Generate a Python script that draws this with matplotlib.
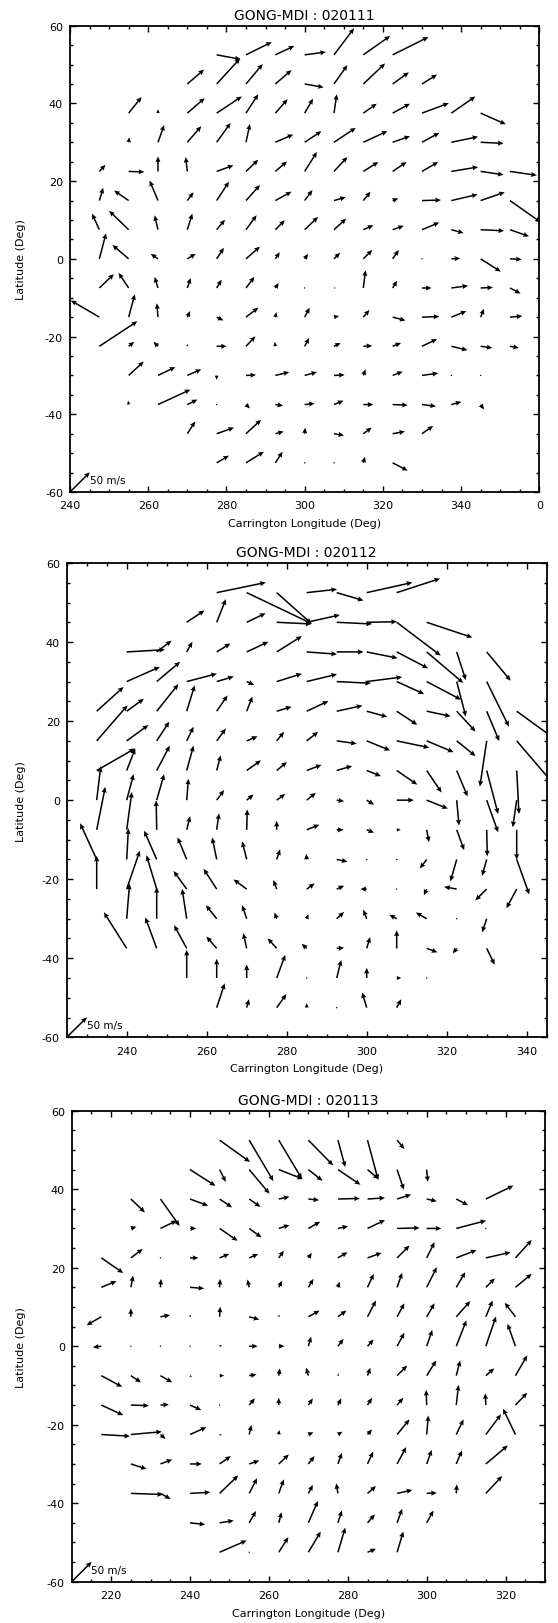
import matplotlib
matplotlib.use('Agg')
import matplotlib.pyplot as plt
from matplotlib.ticker import MultipleLocator, FuncFormatter

plt.rcParams['font.family'] = ['DejaVu Sans']

W, H = 558, 1624

titles = ['GONG-MDI : 020111', 'GONG-MDI : 020112', 'GONG-MDI : 020113']
lon_starts = [240, 225, 210]
lon_span = 120
lat_min, lat_max = -60, 60
xlabel = 'Carrington Longitude (Deg)'
ylabel = 'Latitude (Deg)'
key_speed = 50.0
key_label = '50 m/s'

# flow vectors: (longitude, latitude, u [m/s], v [m/s])
flow_020111 = [
    (277.5, 52.5, 43, -8), (285, 52.5, 46, 23), (292.5, 52.5, 34, 16), (300, 52.5, 38, 5),
    (307.5, 52.5, 36, 48), (315, 52.5, 48, 34), (322.5, 52.5, 64, 32),
    (270, 45, 30, 26), (277.5, 45, 42, 46), (285, 45, 30, 36), (292.5, 45, 29, 25), (300, 45, 34, -6),
    (307.5, 45, 24, 34), (315, 45, 39, 37), (322.5, 45, 29, 21), (330, 45, 27, 17),
    (255, 37.5, 23, 29), (262.5, 37.5, 0, 7), (270, 37.5, 31, 27), (277.5, 37.5, 45, 30), (285, 37.5, 22, 34),
    (292.5, 37.5, 22, 25), (300, 37.5, 15, 26), (307.5, 37.5, 5, 34), (315, 37.5, 24, 17), (322.5, 37.5, 31, 17),
    (330, 37.5, 48, 18), (337.5, 37.5, 43, 30), (345, 37.5, 45, -20),
    (255, 30, 1, 9), (262.5, 30, 11, 31), (270, 30, 25, 29), (277.5, 30, 25, 35), (285, 30, 7, 33),
    (292.5, 30, 32, 14), (300, 30, 30, 20), (307.5, 30, 39, 26), (315, 30, 43, 20), (322.5, 30, 31, 11),
    (330, 30, 31, 17), (337.5, 30, 48, 10), (345, 30, 41, -2),
    (247.5, 22.5, 11, 12), (255, 22.5, 28, -1), (262.5, 22.5, 0, 27), (270, 22.5, -3, 26), (277.5, 22.5, 30, 11),
    (285, 22.5, 22, 21), (292.5, 22.5, 21, 18), (300, 22.5, 22, 35), (307.5, 22.5, 24, 26), (315, 22.5, 27, 17),
    (322.5, 22.5, 25, 17), (330, 22.5, 29, 17), (337.5, 22.5, 48, 8), (345, 22.5, 41, -6), (352.5, 22.5, 48, -7),
    (247.5, 15, 7, 23), (255, 15, -26, 18), (262.5, 15, -15, 36), (270, 15, 11, 15), (277.5, 15, 22, 34),
    (285, 15, 25, 28), (292.5, 15, 29, 16), (300, 15, 14, 19), (307.5, 15, 21, 6), (315, 15, 13, 16),
    (322.5, 15, 10, 4), (330, 15, 34, 1), (337.5, 15, 47, 11), (345, 15, 43, 15), (352.5, 15, 55, -39),
    (247.5, 7.5, -13, 29), (255, 7.5, -35, 34), (262.5, 7.5, -6, 26), (270, 7.5, 9, 29), (277.5, 7.5, 15, 18),
    (285, 7.5, 19, 26), (292.5, 7.5, 17, 17), (300, 7.5, 24, 23), (307.5, 7.5, 22, 20), (315, 7.5, 18, 8),
    (322.5, 7.5, 20, 7), (330, 7.5, 31, 13), (337.5, 7.5, 22, -6), (345, 7.5, 42, -2), (352.5, 7.5, 34, -12),
    (247.5, 0, 12, 46), (255, 0, -29, 25), (262.5, 0, -13, 9), (270, 0, 15, 9), (277.5, 0, 13, 20),
    (285, 0, 25, 22), (292.5, 0, 8, 12), (300, 0, 6, 9), (307.5, 0, 11, 11), (315, 0, 16, 16),
    (322.5, 0, 11, 16), (330, 0, 1, 0), (337.5, 0, 16, 1), (345, 0, 36, -23), (352.5, 0, 21, -1),
    (247.5, -7.5, 26, 25), (255, -7.5, -18, 27), (262.5, -7.5, -6, 20), (270, -7.5, 6, 18), (277.5, -7.5, 9, 15),
    (285, -7.5, 15, 20), (292.5, -7.5, 6, 9), (300, -7.5, 2, 0), (307.5, -7.5, 3, 0), (315, -7.5, 4, 32),
    (322.5, -7.5, 8, 13), (330, -7.5, 17, 0), (337.5, -7.5, 30, 4), (345, -7.5, 22, 1), (352.5, -7.5, 19, -10),
    (247.5, -15, -51, 30), (255, -15, 11, 41), (262.5, -15, -2, 25), (270, -15, 5, 11), (277.5, -15, 12, -6),
    (285, -15, 22, 17), (292.5, -15, 2, 9), (300, -15, 9, 17), (307.5, -15, 9, 2), (315, -15, 11, 13),
    (322.5, -15, 23, -6), (330, -15, 31, 1), (337.5, -15, 27, 11), (345, -15, 6, 15), (352.5, -15, 22, 2),
    (247.5, -22.5, 68, 45), (255, -22.5, 10, 8), (262.5, -22.5, -8, 8), (270, -22.5, 0, 4), (277.5, -22.5, 18, 0),
    (285, -22.5, 17, 18), (292.5, -22.5, -1, 8), (300, -22.5, 8, 15), (307.5, -22.5, 12, 6), (315, -22.5, 16, 1),
    (322.5, -22.5, 15, 6), (330, -22.5, 27, 13), (337.5, -22.5, 29, -7), (345, -22.5, 21, -3), (352.5, -22.5, 16, -3),
    (255, -30, 27, 25), (262.5, -30, 31, 15), (270, -30, 25, 11), (277.5, -30, 0, -8), (285, -30, 18, 1),
    (292.5, -30, 25, 6), (300, -30, 22, 6), (307.5, -30, 19, 1), (315, -30, 4, 11), (322.5, -30, 18, 7),
    (330, -30, 29, 4), (337.5, -30, 1, 0), (345, -30, 1, 0),
    (255, -37.5, -1, 7), (262.5, -37.5, 58, 27), (270, -37.5, 18, 9), (277.5, -37.5, 2, 1), (285, -37.5, 7, -7),
    (292.5, -37.5, 14, -2), (300, -37.5, 18, 2), (307.5, -37.5, 17, 7), (315, -37.5, 18, 0), (322.5, -37.5, 27, -1),
    (330, -37.5, 25, -3), (337.5, -37.5, 18, 5), (345, -37.5, 6, -9),
    (270, -45, 14, 22), (277.5, -45, 31, 11), (285, -45, 27, 25), (292.5, -45, 15, 4), (300, -45, 1, 11),
    (307.5, -45, 18, -3), (315, -45, 15, 11), (322.5, -45, 22, 4), (330, -45, 20, 14),
    (277.5, -52.5, 22, 13), (285, -52.5, 32, 20), (292.5, -52.5, 13, 20), (300, -52.5, 1, 0),
    (307.5, -52.5, 2, 0), (315, -52.5, 3, 11), (322.5, -52.5, 27, -14),
]

flow_020112 = [
    (262.5, 52.5, 86, 18), (270, 52.5, 114, -55), (277.5, 52.5, 61, -55), (285, 52.5, 53, 6),
    (292.5, 52.5, 47, -14), (300, 52.5, 80, 18), (307.5, 52.5, 76, 25),
    (255, 45, 31, 21), (262.5, 45, 16, 41), (270, 45, 33, 16), (277.5, 45, 61, -3), (285, 45, 58, 13),
    (292.5, 45, 62, -3), (300, 45, 53, 1), (307.5, 45, 77, -59), (315, 45, 80, -27),
    (240, 37.5, 67, 4), (247.5, 37.5, 26, 20), (255, 37.5, 10, 18), (262.5, 37.5, 24, 15), (270, 37.5, 38, 18),
    (277.5, 37.5, 44, 28), (285, 37.5, 53, -4), (292.5, 37.5, 47, 0), (300, 37.5, 54, -11), (307.5, 37.5, 55, -29),
    (315, 37.5, 64, -55), (322.5, 37.5, 16, -50), (330, 37.5, 42, -51),
    (240, 30, 58, 26), (247.5, 30, 41, 35), (255, 30, 53, 14), (262.5, 30, 30, 9), (270, 30, 13, -6),
    (277.5, 30, 44, 14), (285, 30, 53, 13), (292.5, 30, 60, -3), (300, 30, 62, 8), (307.5, 30, 48, -22),
    (315, 30, 60, -32), (322.5, 30, 16, -62), (330, 30, 39, -80),
    (232.5, 22.5, 47, 43), (240, 22.5, 30, 22), (247.5, 22.5, 38, 48), (255, 22.5, 14, 46), (262.5, 22.5, 19, 28),
    (270, 22.5, 10, 26), (277.5, 22.5, 26, 8), (285, 22.5, 38, 18), (292.5, 22.5, 45, 10), (300, 22.5, 36, -10),
    (307.5, 22.5, 36, -24), (315, 22.5, 42, -9), (322.5, 22.5, 33, -36), (330, 22.5, 22, -53), (337.5, 22.5, 68, -50),
    (232.5, 15, 54, 63), (240, 15, 38, 28), (247.5, 15, 22, 34), (255, 15, 12, 25), (262.5, 15, 16, 22),
    (270, 15, 19, 8), (277.5, 15, 13, 16), (285, 15, 20, 16), (292.5, 15, 35, -5), (300, 15, 41, -17),
    (307.5, 15, 57, -12), (315, 15, 47, -20), (322.5, 15, 33, -27), (330, 15, -12, -81), (337.5, 15, 60, -71),
    (232.5, 7.5, 67, 39), (240, 7.5, 15, 39), (247.5, 7.5, 23, 44), (255, 7.5, 12, 44), (262.5, 7.5, 7, 27),
    (270, 7.5, 25, 18), (277.5, 7.5, 18, 15), (285, 7.5, 26, 10), (292.5, 7.5, 27, 8), (300, 7.5, 25, -10),
    (307.5, 7.5, 36, -25), (315, 7.5, 26, -39), (322.5, 7.5, 19, -46), (330, 7.5, 20, -77), (337.5, 7.5, 4, -77),
    (232.5, 0, 7, 60), (240, 0, 12, 46), (247.5, 0, 13, 46), (255, 0, 3, 38), (262.5, 0, 13, 18),
    (270, 0, 12, 10), (277.5, 0, 15, 11), (285, 0, 16, 13), (292.5, 0, 13, -2), (300, 0, 13, -8),
    (307.5, 0, 30, 0), (315, 0, 37, -15), (322.5, 0, 4, -45), (330, 0, 20, -57), (337.5, 0, -7, -48),
    (232.5, -7.5, 15, 76), (240, -7.5, 9, 67), (247.5, -7.5, -1, 52), (255, -7.5, 6, 24), (262.5, -7.5, 4, 29),
    (270, -7.5, 1, 36), (277.5, -7.5, 0, 16), (285, -7.5, 22, 9), (292.5, -7.5, 12, 0), (300, -7.5, 13, -5),
    (307.5, -7.5, 7, 0), (315, -7.5, 4, -22), (322.5, -7.5, 13, -36), (330, -7.5, 1, -47), (337.5, -7.5, 0, -53),
    (232.5, -15, -29, 64), (240, -15, 3, 55), (247.5, -15, -22, 51), (255, -15, -16, 39), (262.5, -15, -8, 39),
    (270, -15, -8, 32), (277.5, -15, 6, 18), (285, -15, -1, 10), (292.5, -15, 19, -4), (300, -15, 1, 0),
    (307.5, -15, 1, 1), (315, -15, -12, -16), (322.5, -15, -11, -39), (330, -15, -8, -29), (337.5, -15, 22, -62),
    (232.5, -22.5, 0, 59), (240, -22.5, 23, 68), (247.5, -22.5, -18, 60), (255, -22.5, -23, 32), (262.5, -22.5, -23, 36),
    (270, -22.5, -23, 17), (277.5, -22.5, -6, 16), (285, -22.5, 14, 10), (292.5, -22.5, 13, 6), (300, -22.5, -11, 0),
    (307.5, -22.5, 1, 0), (315, -22.5, -5, -11), (322.5, -22.5, -22, 4), (330, -22.5, -20, -20), (337.5, -22.5, -18, -34),
    (240, -30, 5, 62), (247.5, -30, 0, 56), (255, -30, -8, 53), (262.5, -30, -19, 24), (270, -30, -8, 24),
    (277.5, -30, -4, 11), (285, -30, 3, 8), (292.5, -30, 13, 12), (300, -30, -6, 16), (307.5, -30, -13, 7),
    (315, -30, -19, 11), (322.5, -30, 0, -2), (330, -30, -8, -24),
    (240, -37.5, -40, 64), (247.5, -37.5, -20, 55), (255, -37.5, -22, 41), (262.5, -37.5, -18, 21), (270, -37.5, -6, 27),
    (277.5, -37.5, -16, 18), (285, -37.5, -9, 8), (292.5, -37.5, 13, 1), (300, -37.5, 6, 20), (307.5, -37.5, 0, 32),
    (315, -37.5, 19, -7), (322.5, -37.5, -7, -9), (330, -37.5, 14, -29),
    (255, -45, 0, 50), (262.5, -45, 0, 34), (270, -45, 0, 24), (277.5, -45, 15, 41), (285, -45, 1, 0),
    (292.5, -45, 8, 32), (300, -45, 0, 18), (307.5, -45, 8, 0), (315, -45, 1, 0),
    (262.5, -52.5, 14, 43), (270, -52.5, 4, 15), (277.5, -52.5, 17, 24), (285, -52.5, 0, 8),
    (292.5, -52.5, 1, 0), (300, -52.5, -8, 27), (307.5, -52.5, 8, 15),
]

flow_020113 = [
    (247.5, 52.5, 54, -39), (255, 52.5, 43, -73), (262.5, 52.5, 41, -69), (270, 52.5, 44, -45),
    (277.5, 52.5, 13, -48), (285, 52.5, 19, -71), (292.5, 52.5, 13, -16),
    (240, 45, 45, -29), (247.5, 45, 11, -22), (255, 45, 36, -43), (262.5, 45, 43, -17), (270, 45, 25, -20),
    (277.5, 45, 40, -27), (285, 45, 20, -17), (292.5, 45, 12, -36), (300, 45, 2, -22),
    (225, 37.5, 25, -24), (232.5, 37.5, 34, -48), (240, 37.5, 32, -12), (247.5, 37.5, 22, -15), (255, 37.5, 20, -14),
    (262.5, 37.5, 19, 4), (270, 37.5, 19, -2), (277.5, 37.5, 39, 1), (285, 37.5, 31, 2), (292.5, 37.5, 25, 8),
    (300, 37.5, 18, -4), (307.5, 37.5, 21, -11), (315, 37.5, 49, 24),
    (225, 30, 10, 3), (232.5, 30, 29, 14), (240, 30, 11, 0), (247.5, 30, 32, -22), (255, 30, 22, -16),
    (262.5, 30, 19, 6), (270, 30, 21, 12), (277.5, 30, 18, 4), (285, 30, 31, 15), (292.5, 30, 40, 1),
    (300, 30, 26, 0), (307.5, 30, 53, 14), (315, 30, 1, -2),
    (217.5, 22.5, 39, -27), (225, 22.5, 21, 16), (232.5, 22.5, 1, 1), (240, 22.5, 15, 0), (247.5, 22.5, 17, 7),
    (255, 22.5, 16, 7), (262.5, 22.5, 9, 13), (270, 22.5, 6, 9), (277.5, 22.5, 17, 10), (285, 22.5, 25, 9),
    (292.5, 22.5, 22, 22), (300, 22.5, 14, 28), (307.5, 22.5, 36, 14), (315, 22.5, 44, 10), (322.5, 22.5, 29, 32),
    (217.5, 15, 27, 11), (225, 15, 4, 21), (232.5, 15, 1, 15), (240, 15, 25, -2), (247.5, 15, 1, 15),
    (255, 15, -3, 14), (262.5, 15, 6, 12), (270, 15, 9, 15), (277.5, 15, 3, 10), (285, 15, 11, 24),
    (292.5, 15, 9, 26), (300, 15, 18, 36), (307.5, 15, 16, 27), (315, 15, 16, 16), (322.5, 15, 29, 24),
    (217.5, 7.5, -26, -15), (225, 7.5, 0, 15), (232.5, 7.5, 17, 3), (240, 7.5, 1, 4), (247.5, 7.5, 1, 18),
    (255, 7.5, 18, -5), (262.5, 7.5, 1, 4), (270, 7.5, 20, 11), (277.5, 7.5, 15, 11), (285, 7.5, 15, 29),
    (292.5, 7.5, 13, 24), (300, 7.5, 14, 24), (307.5, 7.5, 25, 28), (315, 7.5, 12, 29), (322.5, 7.5, -19, 25),
    (217.5, 0, -15, -2), (225, 0, 1, 2), (232.5, 0, 1, 1), (240, 0, 1, 1), (247.5, 0, 4, 2),
    (255, 0, 15, 0), (262.5, 0, 10, 0), (270, 0, 5, 17), (277.5, 0, 10, 13), (285, 0, 11, 12),
    (292.5, 0, 13, 24), (300, 0, 10, 29), (307.5, 0, 18, 46), (315, 0, 18, 53), (322.5, 0, -14, 40),
    (217.5, -7.5, 37, -20), (225, -7.5, 18, -12), (232.5, -7.5, 21, -12), (240, -7.5, 3, -3), (247.5, -7.5, 8, 0),
    (255, -7.5, 13, 2), (262.5, -7.5, 2, 13), (270, -7.5, -4, 14), (277.5, -7.5, 1, 4), (285, -7.5, 5, 14),
    (292.5, -7.5, 18, 18), (300, -7.5, 17, 27), (307.5, -7.5, 7, 27), (315, -7.5, 15, 13), (322.5, -7.5, 21, 36),
    (217.5, -15, 39, -18), (225, -15, 32, -1), (232.5, -15, 15, 1), (240, -15, 20, -9), (247.5, -15, 1, 0),
    (255, -15, 10, 12), (262.5, -15, 0, 13), (270, -15, 8, 12), (277.5, -15, 6, 12), (285, -15, 8, 13),
    (292.5, -15, 11, 13), (300, -15, -1, 27), (307.5, -15, 4, 36), (315, -15, -1, 21), (322.5, -15, 21, 22),
    (217.5, -22.5, 51, -3), (225, -22.5, 55, 5), (232.5, -22.5, 9, -8), (240, -22.5, 29, 13), (247.5, -22.5, 4, -1),
    (255, -22.5, 4, 17), (262.5, -22.5, 1, 8), (270, -22.5, 9, 4), (277.5, -22.5, 8, 5), (285, -22.5, 8, 9),
    (292.5, -22.5, 22, 27), (300, -22.5, 3, 34), (307.5, -22.5, 13, 27), (315, -22.5, 27, 36), (322.5, -22.5, -22, 46),
    (225, -30, 28, -9), (232.5, -30, 21, 8), (240, -30, 21, 0), (247.5, -30, 20, 14), (255, -30, 18, 6),
    (262.5, -30, 18, 17), (270, -30, 11, 14), (277.5, -30, 7, 20), (285, -30, 10, 22), (292.5, -30, 16, 30),
    (300, -30, 9, 25), (307.5, -30, 10, 24), (315, -30, 39, 33),
    (225, -37.5, 57, -2), (232.5, -37.5, 18, -10), (240, -37.5, 36, 2), (247.5, -37.5, 33, 32), (255, -37.5, 14, 27),
    (262.5, -37.5, 9, 25), (270, -37.5, 8, 15), (277.5, -37.5, -3, 18), (285, -37.5, 15, 13), (292.5, -37.5, 27, 6),
    (300, -37.5, 18, 1), (307.5, -37.5, 1, 16), (315, -37.5, 29, 31),
    (240, -45, 27, -3), (247.5, -45, 25, 4), (255, -45, 12, 21), (262.5, -45, 5, 19), (270, -45, 17, 39),
    (277.5, -45, 7, 22), (285, -45, 13, 15), (292.5, -45, 9, 25), (300, -45, 12, 22),
    (247.5, -52.5, 48, 21), (255, -52.5, 1, 0), (262.5, -52.5, 17, 27), (270, -52.5, 22, 37),
    (277.5, -52.5, 13, 44), (285, -52.5, 15, 6), (292.5, -52.5, 11, 37),
]

flows = [flow_020111, flow_020112, flow_020113]

# axes boxes in pixels: left, top, right, bottom
boxes = [(70, 26.7, 539.3, 493.0), (66.7, 564.0, 546.7, 1038.3), (71.7, 1111.7, 545.0, 1582.7)]

MS_PER_DEG = 7.0   # quiver scale: m/s per degree of arrow length
qkw = dict(angles='xy', scale_units='xy', scale=MS_PER_DEG, pivot='tail', color='black',
           width=0.0032, headwidth=3.4, headlength=3.8, headaxislength=3.4)

fig = plt.figure(figsize=(W / 100, H / 100), dpi=100)
fig.patch.set_facecolor('white')

for title, lon0, flow, (l, t, r, b) in zip(titles, lon_starts, flows, boxes):
    ax = fig.add_axes([l / W, 1 - b / H, (r - l) / W, (b - t) / H])
    ax.set_xlim(lon0, lon0 + lon_span)
    ax.set_ylim(lat_min, lat_max)
    lons = [f[0] for f in flow]
    lats = [f[1] for f in flow]
    us = [f[2] for f in flow]
    vs = [f[3] for f in flow]
    ax.quiver(lons, lats, us, vs, **qkw)
    comp = key_speed / 2 ** 0.5
    qk = ax.quiver([lon0], [lat_min], [comp], [comp], **qkw)
    qk.set_clip_on(False)
    ax.text(lon0 + 5.0, lat_min + 3.0, key_label, fontsize=7.5, ha='left', va='center')

    ax.xaxis.set_major_locator(MultipleLocator(20))
    ax.xaxis.set_minor_locator(MultipleLocator(5))
    ax.yaxis.set_major_locator(MultipleLocator(20))
    ax.yaxis.set_minor_locator(MultipleLocator(5))
    ax.xaxis.set_major_formatter(FuncFormatter(lambda v, p: f"{int(round(v)) % 360}"))
    ax.yaxis.set_major_formatter(FuncFormatter(lambda v, p: f"{int(round(v))}"))
    ax.tick_params(which='both', direction='in', top=True, right=True, width=1.0, color='black')
    ax.tick_params(which='major', length=4.0, labelsize=8)
    ax.tick_params(which='minor', length=2.0)
    ax.tick_params(axis='x', which='major', pad=6)
    ax.tick_params(axis='y', which='major', pad=5)
    for s in ax.spines.values():
        s.set_linewidth(1.3)

    cx = (l + r) / 2
    fig.text(cx / W, 1 - (t - 11) / H, title, fontsize=10, ha='center', va='center')
    fig.text(cx / W, 1 - (b + 31) / H, xlabel, fontsize=8, ha='center', va='center')
    fig.text(21 / W, 1 - ((t + b) / 2) / H, ylabel, fontsize=8, ha='center', va='center', rotation=90)

fig.savefig('out.png', dpi=100, facecolor='white')
